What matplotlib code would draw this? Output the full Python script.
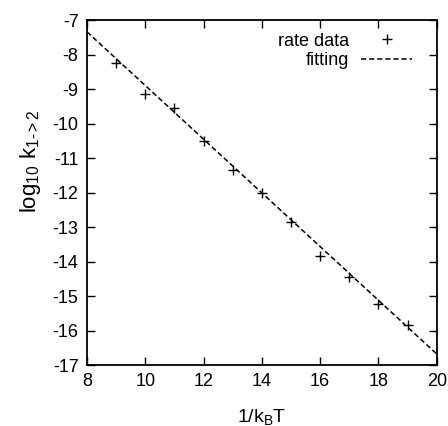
import matplotlib
matplotlib.use("Agg")
import matplotlib.pyplot as plt

inv_kT = [9, 10, 11, 12, 13, 14, 15, 16, 17, 18, 19]
log_rate = [-8.24, -9.14, -9.56, -10.51, -11.35, -12.0, -12.85, -13.84, -14.46, -15.23, -15.84]
fit_x = [8, 20]
fit_y = [-7.34, -16.68]
x_ticks = [8, 10, 12, 14, 16, 18, 20]
y_ticks = [-7, -8, -9, -10, -11, -12, -13, -14, -15, -16, -17]

plt.rcParams['font.family'] = ['Liberation Sans', 'DejaVu Sans']
plt.rcParams['mathtext.fontset'] = 'custom'
plt.rcParams['mathtext.rm'] = 'Liberation Sans'
plt.rcParams['mathtext.it'] = 'Liberation Sans'

fig = plt.figure(figsize=(4.48, 4.26), dpi=100)
ax = fig.add_axes([0.194, 0.143, 0.781, 0.81])

ax.plot(inv_kT, log_rate, linestyle='none', marker='+', color='black',
        markersize=7.5, markeredgewidth=1.0, label='rate data')
ax.plot(fit_x, fit_y, linestyle=(0, (3.4, 1.9)), color='black', linewidth=1.1,
        label='fitting')

ax.set_xlim(8, 20)
ax.set_ylim(-17, -7)
ax.set_xticks(x_ticks)
ax.set_yticks(y_ticks)
ax.set_yticklabels([f'{v}' for v in y_ticks])
ax.tick_params(direction='in', length=6, width=1, top=True, right=True,
               labelsize=13, pad=6)
for s in ax.spines.values():
    s.set_linewidth(1.3)

ax.set_xlabel(r'1/k$_\mathregular{B}$T', fontsize=14, labelpad=12)
ax.set_ylabel(r'log$_\mathregular{10}$ k$_\mathregular{1\text{-}>2}$', fontsize=16)
ax.yaxis.set_label_coords(-0.125, 0.59)

leg = ax.legend(loc='upper right', frameon=False, markerfirst=False,
                fontsize=13, handlelength=2.8, borderaxespad=0.3,
                labelspacing=0.15, handletextpad=0.65,
                bbox_to_anchor=(0.965, 1.0))
for t in leg.get_texts():
    t.set_ha('right')

fig.savefig('out.png', dpi=100)
